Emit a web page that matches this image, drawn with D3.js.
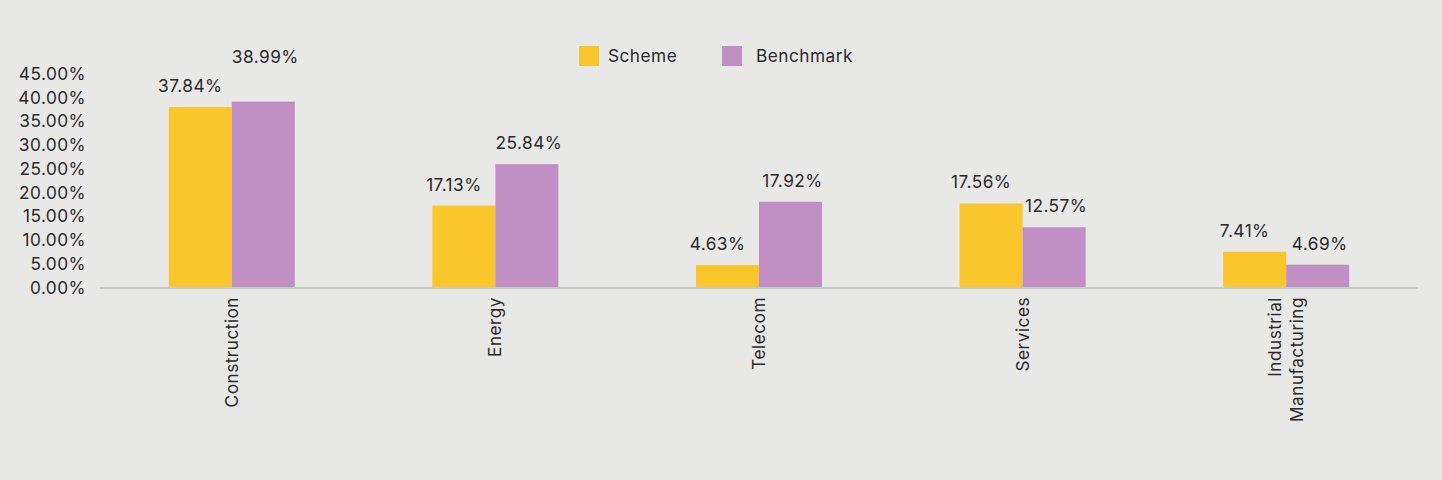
<!DOCTYPE html>
<html><head><meta charset="utf-8">
<script src="https://cdn.jsdelivr.net/npm/d3@7"></script>
<style>
html,body{margin:0;padding:0;background:#e8e8e7;}
svg{display:block;font-family:Inter,"Open Sans",sans-serif;}
svg text{letter-spacing:0.45px;}
</style></head>
<body><svg id="c" width="1442" height="480"></svg>
<script>
const categories = [["Construction"],["Energy"],["Telecom"],["Services"],["Industrial","Manufacturing"]];
const seriesNames = ["Scheme","Benchmark"];
const scheme = [37.84, 17.13, 4.63, 17.56, 7.41];
const benchmark = [38.99, 25.84, 17.92, 12.57, 4.69];
const yTicks = [0,5,10,15,20,25,30,35,40,45];
const colors = ["#f9c62b","#c08fc3"];

const svg = d3.select("#c");
const W = 1442, H = 480;
const FS = 17.3, FF = "Inter,'Open Sans',sans-serif";
svg.append("rect").attr("width",W).attr("height",H).attr("fill","#e8e8e7");

const x0 = 100, x1 = 1418, yBase = 287, yTop = 73;
const keys = categories.map(c=>c.join(" "));
const x = d3.scaleBand().domain(keys).range([x0,x1]).paddingInner(0.522).paddingOuter(0.261);
const xs = d3.scaleBand().domain(seriesNames).range([0,x.bandwidth()]);
const y = d3.scaleLinear().domain([0,45]).range([yBase,yTop]);
const textColor = "#2b2b2b";

const yAxis = d3.axisLeft(y).tickValues(yTicks).tickFormat(d=>d.toFixed(2)+"%").tickSize(0).tickPadding(0);
const ga = svg.append("g").attr("transform","translate(86,0)").call(yAxis);
ga.select(".domain").remove();
ga.selectAll("text").attr("font-size",FS).attr("fill",textColor).attr("font-family",FF).attr("dy","0.36em");

const data = [scheme, benchmark];
const g = svg.append("g");
seriesNames.forEach((s,si)=>{
  const vals = data[si];
  g.selectAll(".b"+si).data(vals).join("rect")
    .attr("x",(d,i)=>x(keys[i])+xs(s))
    .attr("y",d=>y(d))
    .attr("width",xs.bandwidth())
    .attr("height",d=>yBase-y(d))
    .attr("fill",colors[si]);
  g.selectAll(".l"+si).data(vals).join("text")
    .attr("x",(d,i)=>x(keys[i])+xs(s)+xs.bandwidth()/2+(si===0?-10:2))
    .attr("y",(d,i)=>y(d)-(i===0&&si===1?39:15))
    .attr("text-anchor","middle")
    .attr("font-size",FS).attr("fill",textColor)
    .text(d=>d.toFixed(2)+"%");
});

svg.append("line").attr("x1",x0).attr("x2",x1).attr("y1",yBase+1).attr("y2",yBase+1)
  .attr("stroke","#c9c9c9").attr("stroke-width",2);

categories.forEach((lines,i)=>{
  const cx = x(keys[i]) + x.bandwidth()/2;
  const n = lines.length;
  lines.forEach((t,li)=>{
    const off = (li-(n-1)/2)*22;
    svg.append("text")
      .attr("transform",`translate(${cx+off+6},297) rotate(-90)`)
      .attr("text-anchor","end")
      .attr("font-size",FS).attr("fill",textColor)
      .text(t);
  });
});

const leg = [{n:seriesNames[0],x:579},{n:seriesNames[1],x:722}];
leg.forEach((l,i)=>{
  svg.append("rect").attr("x",l.x).attr("y",46).attr("width",20).attr("height",20).attr("fill",colors[i]);
  svg.append("text").attr("x",l.x+(i===0?29:34)).attr("y",62).attr("font-size",FS).attr("fill",textColor).text(l.n);
});
</script></body></html>
